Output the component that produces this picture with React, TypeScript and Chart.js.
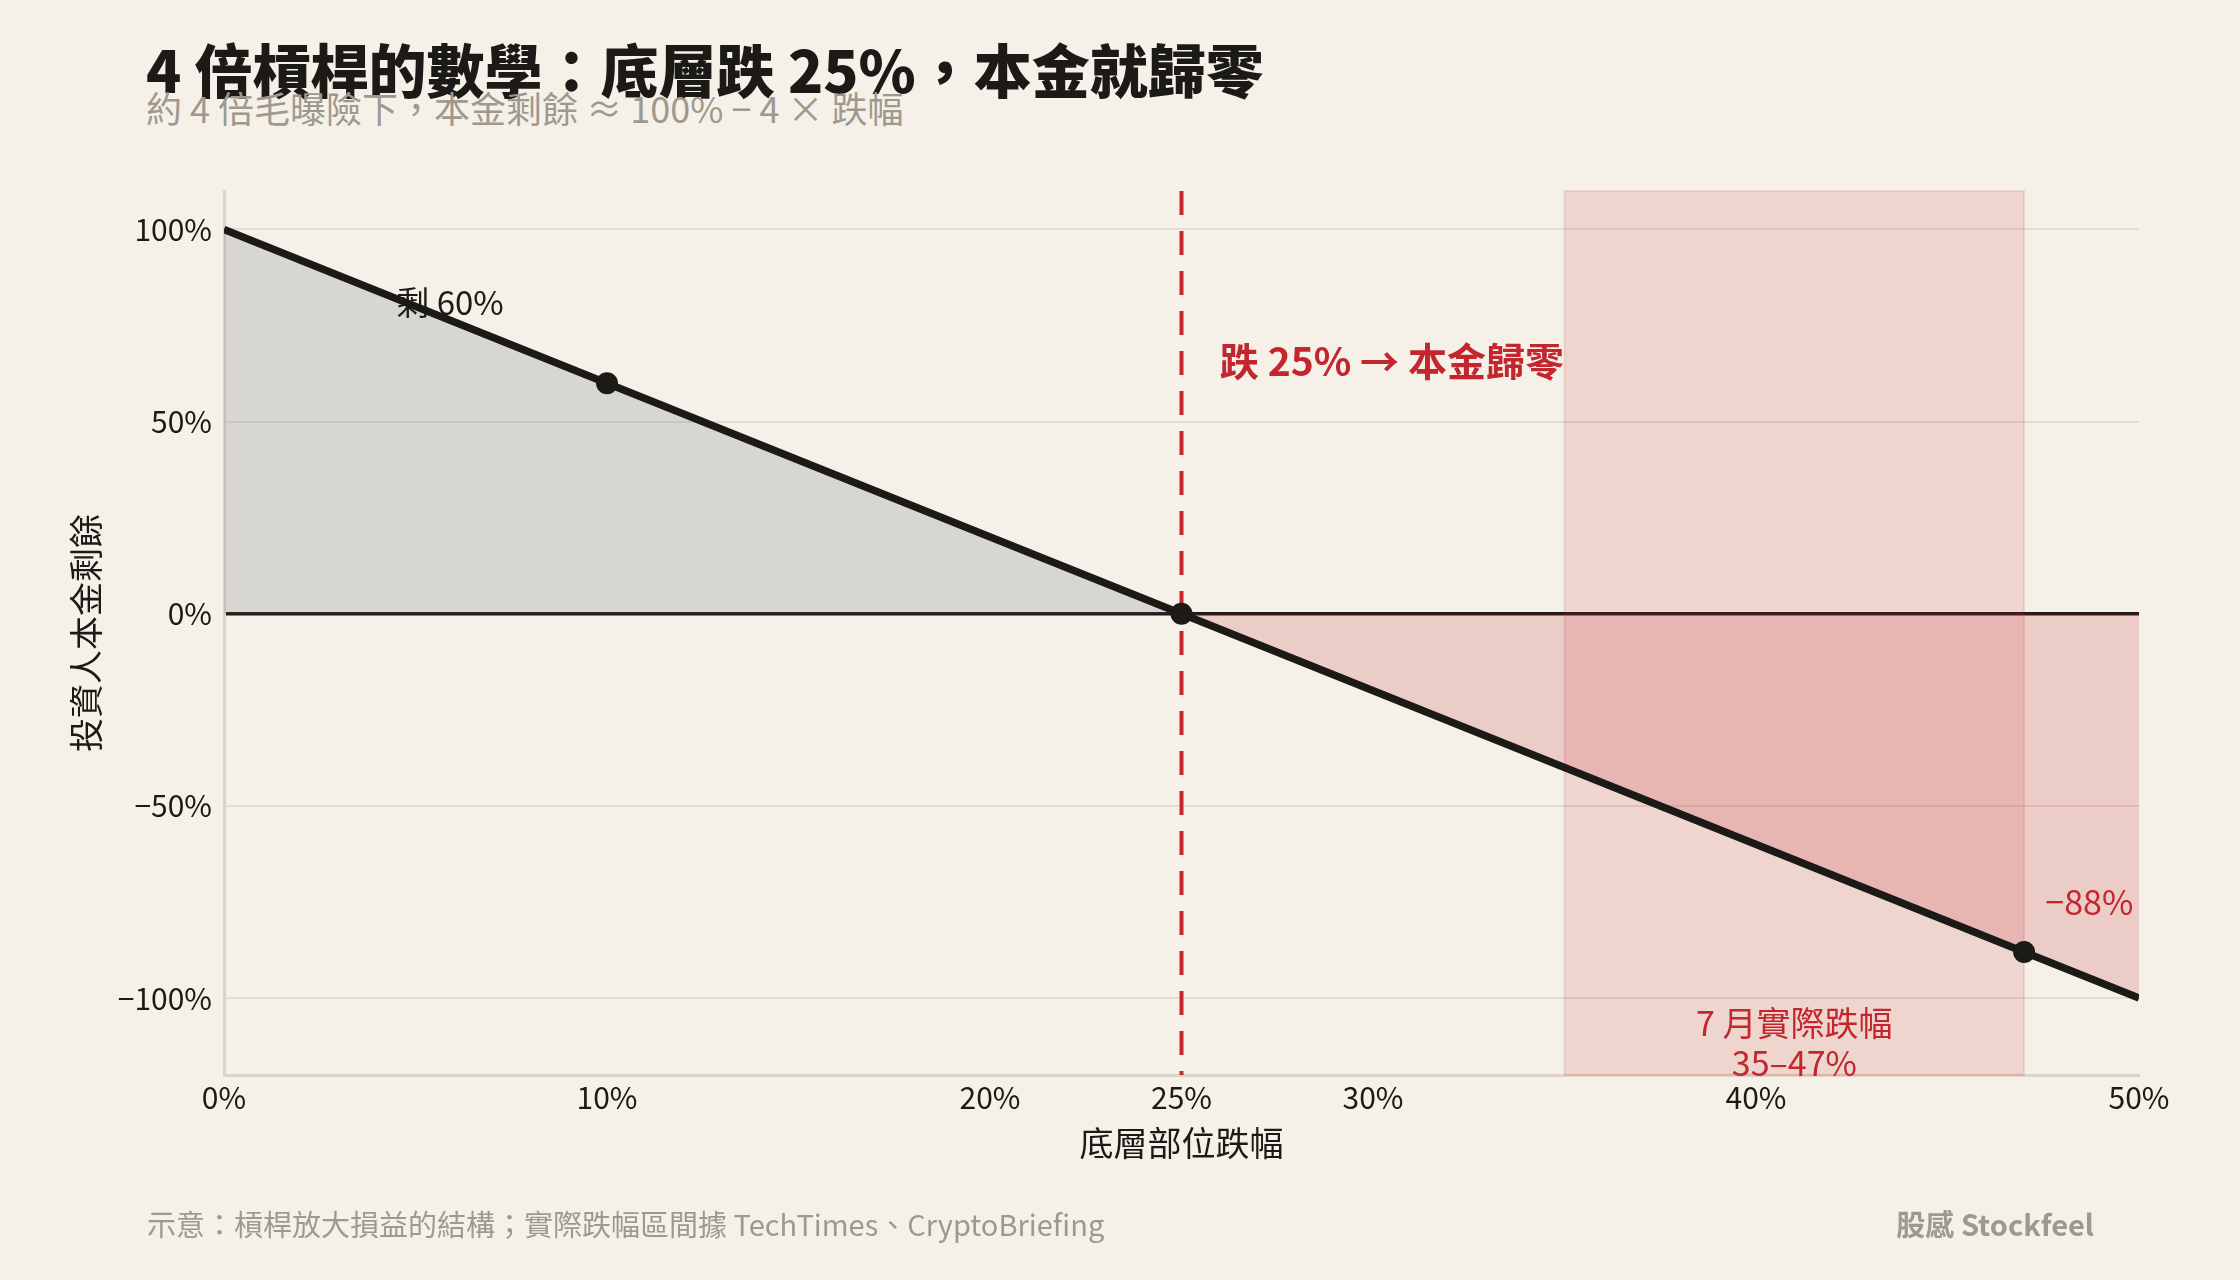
import React, { useEffect, useRef } from 'react';
import { Chart, registerables } from 'chart.js';

Chart.register(...registerables);

// ---- data ----
const drops = [0, 10, 25, 47, 50];
const remaining = [100, 60, 0, -88, -100];
const markers = [false, true, true, true, false];
const xTicks = [0, 10, 20, 25, 30, 40, 50];
const yTicks = [100, 50, 0, -50, -100];
const bandRange = [35, 47];
const zeroDrop = 25;

const titleText = '4 倍槓桿的數學：底層跌 25%，本金就歸零';
const subtitleText = '約 4 倍毛曝險下，本金剩餘 ≈ 100% − 4 × 跌幅';
const xTitle = '底層部位跌幅';
const yTitle = '投資人本金剩餘';
const footLeft = '示意：槓桿放大損益的結構；實際跌幅區間據 TechTimes、CryptoBriefing';
const footRight = '股感 Stockfeel';

const noteTexts = ['剩 60%', '跌 25% → 本金歸零', '−88%', '7 月實際跌幅', '35–47%'];
const noteX = [4.5, 26, 49.85, 41, 41];
const noteY = [81, 65.8, -75, -106.4, -116.8];

// ---- style ----
const FONT = '"Noto Sans CJK TC", "Noto Sans", sans-serif';
const BG = '#f5f1e8';
const INK = '#1c1a17';
const RED = '#c4262e';
const GRAY = '#9e998f';
const GRID = '#e3ddd2';
const AXIS = '#dcd4c8';

const noteStyle = [
  { align: 'left', color: INK, size: 33, weight: 400 },
  { align: 'left', color: RED, size: 39, weight: 700 },
  { align: 'right', color: RED, size: 34, weight: 400 },
  { align: 'center', color: RED, size: 34, weight: 400 },
  { align: 'center', color: RED, size: 34, weight: 400 },
];

const fmt = (v: number) => (v < 0 ? '−' + Math.abs(v) + '%' : v + '%');

const decorPlugin = {
  id: 'decor',
  beforeDatasetsDraw(chart: any) {
    const { ctx, chartArea: a, scales } = chart;
    const xs = scales.x;
    ctx.save();
    // band
    const b0 = xs.getPixelForValue(bandRange[0]);
    const b1 = xs.getPixelForValue(bandRange[1]);
    ctx.fillStyle = 'rgba(200,40,50,0.14)';
    ctx.fillRect(b0, a.top, b1 - b0, a.bottom - a.top);
    ctx.strokeStyle = 'rgba(200,40,50,0.12)';
    ctx.lineWidth = 2;
    ctx.strokeRect(b0, a.top, b1 - b0, a.bottom - a.top);
    // dashed line
    const zx = xs.getPixelForValue(zeroDrop);
    ctx.strokeStyle = RED;
    ctx.lineWidth = 4;
    ctx.setLineDash([24, 16]);
    ctx.beginPath();
    ctx.moveTo(zx, a.top);
    ctx.lineTo(zx, a.bottom);
    ctx.stroke();
    ctx.restore();
  },
  afterDatasetsDraw(chart: any) {
    const { ctx, scales } = chart;
    ctx.save();
    ctx.textBaseline = 'middle';
    noteTexts.forEach((t, i) => {
      const s = noteStyle[i];
      ctx.font = `${s.weight} ${s.size}px ${FONT}`;
      ctx.fillStyle = s.color;
      ctx.textAlign = s.align;
      ctx.fillText(t, scales.x.getPixelForValue(noteX[i]), scales.y.getPixelForValue(noteY[i]));
    });
    ctx.restore();
  },
};

export default function App() {
  const ref = useRef<HTMLCanvasElement>(null);

  useEffect(() => {
    document.body.style.margin = '0';
    document.body.style.background = BG;
    const chart = new Chart(ref.current!, {
      type: 'line',
      data: {
        datasets: [
          {
            data: drops.map((d, i) => ({ x: d, y: remaining[i] })),
            borderColor: INK,
            borderWidth: 7.5,
            pointRadius: markers.map((m) => (m ? 11 : 0)),
            pointBackgroundColor: INK,
            pointBorderColor: INK,
            pointBorderWidth: 0,
            fill: {
              target: { value: 0 },
              above: 'rgba(100,112,118,0.2)',
              below: 'rgba(200,40,50,0.18)',
            },
            tension: 0,
          },
        ],
      },
      options: {
        animation: false,
        responsive: true,
        maintainAspectRatio: false,
        devicePixelRatio: 1,
        layout: { padding: { left: 0, top: 191, right: 101, bottom: 105 } },
        plugins: { legend: { display: false }, tooltip: { enabled: false } },
        scales: {
          x: {
            type: 'linear',
            min: 0,
            max: 50,
            afterBuildTicks: (s: any) => {
              s.ticks = xTicks.map((v) => ({ value: v }));
            },
            afterFit: (s: any) => {
              s.height = 100;
            },
            grid: { display: false, drawTicks: false },
            border: { display: true, color: AXIS, width: 3 },
            ticks: {
              padding: 5,
              color: INK,
              font: { family: FONT, size: 30 },
              callback: (v: any) => v + '%',
              maxRotation: 0,
              autoSkip: false,
            },
            title: {
              display: true,
              text: xTitle,
              color: INK,
              font: { family: FONT, size: 34 },
              padding: { top: 0, bottom: 12 },
            },
          },
          y: {
            type: 'linear',
            min: -120,
            max: 110,
            afterBuildTicks: (s: any) => {
              s.ticks = yTicks.map((v) => ({ value: v }));
            },
            afterFit: (s: any) => {
              s.width = 224;
            },
            grid: {
              drawTicks: false,
              color: (c: any) => (c.tick && c.tick.value === 0 ? INK : GRID),
              lineWidth: (c: any) => (c.tick && c.tick.value === 0 ? 3.5 : 2),
            },
            border: { display: true, color: AXIS, width: 3 },
            ticks: {
              padding: 12,
              color: INK,
              font: { family: FONT, size: 30 },
              callback: (v: any) => fmt(Number(v)),
            },
            title: {
              display: true,
              text: yTitle,
              color: INK,
              font: { family: FONT, size: 34 },
              padding: { top: 66, bottom: 0 },
            },
          },
        },
      },
      plugins: [decorPlugin],
    } as any);
    return () => chart.destroy();
  }, []);

  return (
    <div style={{ position: 'relative', width: 2240, height: 1280, background: BG, overflow: 'hidden', fontFamily: FONT }}>
      <div style={{ position: 'absolute', left: 146, top: 39, fontSize: 58, lineHeight: 1, fontWeight: 900, color: INK, whiteSpace: 'nowrap' }}>
        {titleText}
      </div>
      <div style={{ position: 'absolute', left: 146, top: 89, fontSize: 36, lineHeight: 1, fontWeight: 400, color: GRAY, whiteSpace: 'nowrap' }}>
        {subtitleText}
      </div>
      <div style={{ position: 'absolute', left: 0, top: 0, width: 2240, height: 1280 }}>
        <canvas ref={ref} />
      </div>
      <div style={{ position: 'absolute', left: 147, top: 1209, fontSize: 29, lineHeight: 1, color: GRAY, whiteSpace: 'nowrap' }}>
        {footLeft}
      </div>
      <div style={{ position: 'absolute', right: 146, top: 1209, fontSize: 29, lineHeight: 1, fontWeight: 600, color: GRAY, whiteSpace: 'nowrap' }}>
        {footRight}
      </div>
    </div>
  );
}
